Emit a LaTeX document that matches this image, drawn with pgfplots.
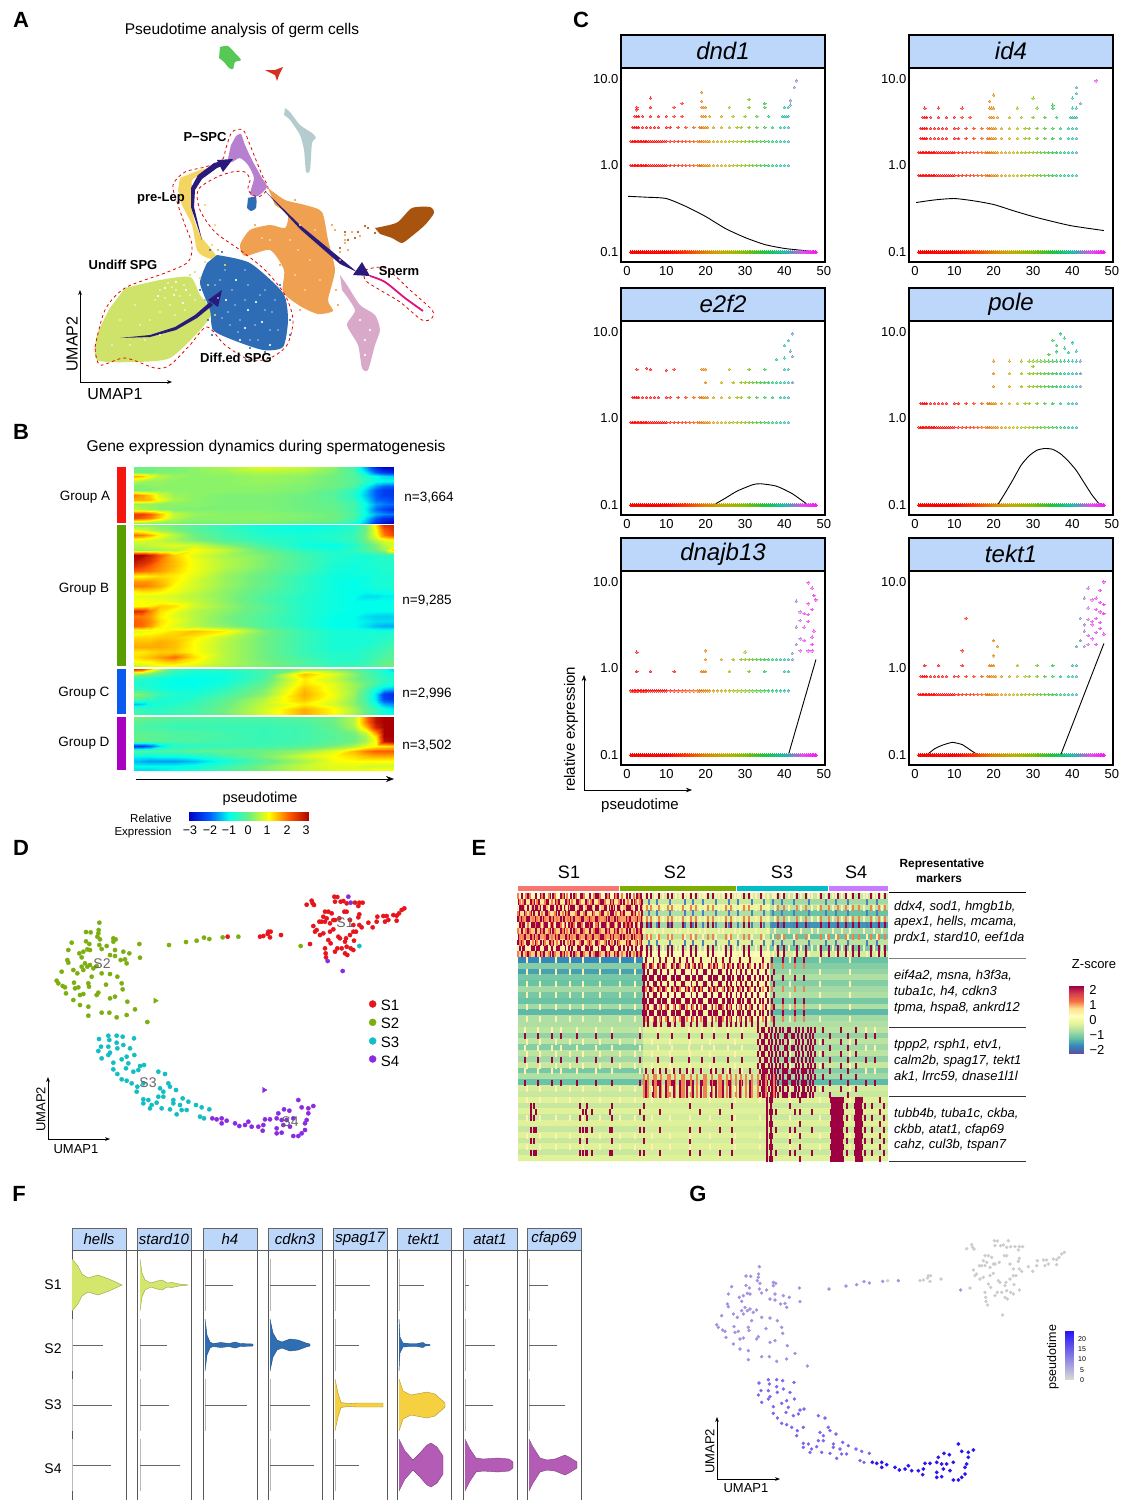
\documentclass[border=0pt]{standalone}
\usepackage{pgfplots}
\usepackage{pgfplotstable}
\usepackage{fontspec}
\setmainfont{Liberation Sans}
\pgfplotsset{compat=1.18}
\usetikzlibrary{arrows.meta}
\definecolor{stripb}{HTML}{BDD7FB}\definecolor{navy}{HTML}{2A1A7C}
\definecolor{hot}{HTML}{9E0142}\definecolor{org}{HTML}{F08050}\definecolor{cre}{HTML}{FFF2B0}\definecolor{blu}{HTML}{4A7FC0}
\definecolor{cS1}{HTML}{E8141C}\definecolor{cS2}{HTML}{7CAE10}\definecolor{cS3}{HTML}{10BEC4}\definecolor{cS4}{HTML}{8A2BE2}
\definecolor{lime}{HTML}{D4E66B}\definecolor{vblue}{HTML}{2F6EB3}\definecolor{vyel}{HTML}{F5D142}\definecolor{vpur}{HTML}{B35BB5}
\definecolor{aorg}{HTML}{EFA050}\definecolor{ablu}{HTML}{2E6CB5}\definecolor{ablt}{HTML}{7FA8D8}\definecolor{aorl}{HTML}{F7CFA0}\definecolor{apin}{HTML}{D9A9C9}\definecolor{apur}{HTML}{B77FD0}\definecolor{abrn}{HTML}{A8540F}\definecolor{agry}{HTML}{B5CCCF}\definecolor{agrn}{HTML}{55C855}\definecolor{ared}{HTML}{D8301E}\definecolor{ayel}{HTML}{F5D562}\definecolor{amag}{HTML}{E0107F}\definecolor{alim}{HTML}{CFE26A}\definecolor{allt}{HTML}{EAF3B8}
\pgfplotsset{
 colormap={jetB}{rgb255=(0,0,200) rgb255=(0,90,255) rgb255=(0,255,235) rgb255=(110,240,130) rgb255=(255,255,0) rgb255=(255,90,0) rgb255=(170,0,0)},
 colormap={spec}{rgb255=(94,79,162) rgb255=(50,136,189) rgb255=(102,194,165) rgb255=(171,221,164) rgb255=(230,245,152) rgb255=(255,255,191) rgb255=(254,224,139) rgb255=(244,109,67) rgb255=(213,62,79) rgb255=(158,1,66)},
 colormap={rb}{rgb255=(255,0,0) rgb255=(255,0,0) rgb255=(255,0,0) rgb255=(255,50,0) rgb255=(225,130,0) rgb255=(190,175,0) rgb255=(130,190,0) rgb255=(30,195,60) rgb255=(20,190,160) rgb255=(235,70,240) rgb255=(240,0,240)},
 colormap={gb}{rgb255=(215,215,215) rgb255=(40,20,245)},
 hid/.style={scale only axis,anchor=north west,axis lines=none,y dir=reverse},
 cax/.style={scale only axis,anchor=north west,width=204pt,height=194pt,xmin=-1.5,xmax=50.3,ymin=-1.1156,ymax=1.127,y filter/.expression={log10(y)},
  xtick={0,10,20,30,40,50},ytick={-1,0,1},yticklabels={0.1,1.0,10.0},xticklabels={0,10,20,30,40,50},major tick length=0pt,minor tick length=0pt,
  axis line style={line width=1.2pt},tick label style={font=\fontsize{13}{13}\selectfont},colormap name=rb,point meta min=0,point meta max=50,
  xticklabel style={yshift=-1pt},yticklabel style={xshift=1pt}},
 sc/.style={only marks,scatter,mark=*,mark size=1.25,point meta=x,opacity=.5,scatter/use mapped color={draw=mapped color,fill=mapped color},mark options={line width=0pt}},
 sz/.style={only marks,scatter,mark=*,mark size=1.6,point meta=x,opacity=.9,scatter/use mapped color={draw=mapped color,fill=mapped color},mark options={line width=0pt}},
}
\newtoks\myac \newcount\ci \newcount\ri \def\ncol{15}
\def\tolistA#1 {\ifx x#1\else\myac=\expandafter{\the\myac #1\\}\expandafter\tolistA\fi}
\def\hA#1 {\ifx x#1\else\edef\tmp{\the\myac\csname\cxp\the\ci\endcsname\space\the\ri\space#1\noexpand\\}\myac=\expandafter{\tmp}\advance\ci 1 \ifnum\ci=\ncol\relax\ci=0 \advance\ri 1 \fi\expandafter\hA\fi}
\newcommand\lv[3][sc]{\myac={}\expandafter\tolistA#3 x \edef\tmp{\noexpand\addplot[#1] table[row sep=\noexpand\\,header=false,x index=0,y expr=#2]{\the\myac};}\tmp}
\newcommand\pr[2][sc]{\addplot[#1] table[row sep=\\,header=false,x index=0,y index=1]{#2};}
\newcommand\tk[3]{\myac={}\expandafter\tolistA#3 x \edef\tmp{\noexpand\addplot[only marks,mark=|,mark size=3.1,mark options={#1,line width=1.1pt}] table[row sep=\noexpand\\,header=false,x index=0,y expr=#2]{\the\myac};}\tmp}
\newcommand\tkr[3]{\foreach\yy in {#3}{\tk{#1}{\yy}{#2}}}
\newcommand\bheat[3]{\myac={}\ci=0 \ri=0 \expandafter\hA#3 x \edef\tmp{\noexpand\addplot3[surf,shader=interp,mesh/cols=15] table[row sep=\noexpand\\,header=false,x index=0,y expr=#1+#2*\noexpand\thisrowno{1},z index=2]{\the\myac};}\tmp}
\foreach[count=\i from 0]\v in {0,8,16,26,40,60,90,130,170,200,220,232,242,250,260}{\expandafter\xdef\csname cx\i\endcsname{\v}}
\expandafter\def\csname ex0\endcsname{518}\expandafter\def\csname ex1\endcsname{643}\expandafter\def\csname ex2\endcsname{770}\expandafter\def\csname ex3\endcsname{888}
\newcommand\T[5][]{\node[inner sep=0pt,yshift=-1.3pt,#1] at (#2pt,-#3pt) {\fontsize{#4}{#4}\selectfont #5};}
\newcommand\pg[2]{\addplot[fill=#1,draw=none,smooth,tension=.4] coordinates {#2};}
\newcommand\spts[3][.9]{\addplot[only marks,mark=*,mark size=#1,color=#2,mark options={draw=none}] coordinates {#3};}
\newcommand\Cb[3]{\draw[line width=1.2pt,fill=stripb] (#1pt,-#2pt) rectangle ++(204pt,-33pt);\node at (#1pt+102pt,-#2pt-16pt) {\fontsize{24}{24}\selectfont\itshape #3};
 \begin{axis}[cax,at={(#1pt,-#2pt-33pt)}]}
\newcommand\Cu[1]{\addplot[black,line width=.9pt,smooth,tension=.4] coordinates {#1};}
\newcommand\Vl[3]{\addplot[gray!55,line width=1pt] table[row sep=\\,header=false,x index=0,y expr=#1+\thisrowno{1}]{#3 -26\\#3 26\\};\ifdim#2pt>0pt\addplot[black!60,line width=.4pt] table[row sep=\\,header=false,x index=0,y expr=#1]{#3\\#2\\};\fi}
\newcommand\Vi[4]{\addplot[fill=#1,draw=none] table[row sep=\\,header=false,x index=0,y expr=#2+\thisrowno{1}]{#4#3 0\\};\addplot[fill=#1,draw=none] table[row sep=\\,header=false,x index=0,y expr=#2-\thisrowno{1}]{#4#3 0\\};
 \addplot[#1!70!black,line width=.4pt] table[row sep=\\,header=false,x index=0,y expr=#2+\thisrowno{1}]{#4};\addplot[#1!70!black,line width=.4pt] table[row sep=\\,header=false,x index=0,y expr=#2-\thisrowno{1}]{#4};}
\newcommand\VP[3]{\draw[gray!80!black,line width=.8pt,fill=stripb] (#1pt,-1228pt) rectangle ++(54pt,-22pt);\node at (#1pt+27pt,-1239pt) {\fontsize{15}{15}\selectfont\itshape #2};
 \begin{axis}[hid,at={(#1pt,-1250pt)},width=54pt,height=250pt,xmin=0,xmax=54,ymin=1250,ymax=1500,clip=false]
 \addplot[black!65,line width=.8pt] coordinates {(0,1250)(0,1500)};\addplot[black!65,line width=.8pt] coordinates {(54,1250)(54,1500)};#3\end{axis}}
\def\Xz{1 1.5 2 2.5 3 3.5 4 4.5 5 5.5 6 6.5 7 7.5 8 8.5 9 9.5 10 10.5 11 11.5 12 12.5 13 13.5 14 14.5 15 15.5 16 16.5 17 17.5 18 18.5 19 19.5 20 20.5 21 21.5 22 22.5 23 23.5 24 24.5 25 25.5 26 26.5 27 27.5 28 28.5 29 29.5 30 30.5 31 31.5 32 32.5 33 33.5 34 34.5 35 35.5 36 36.5 37 37.5 38 38.5 39 39.5 40 40.5 41 41.5 42 42.5 43 43.5 44 44.5 45 45.5 46 46.5 47 47.5 48}
\def\Xa{1 1.4 1.8 2.2 2.6 3 3.4 3.8 4.2 4.6 5 5.5 6 6.5 7 7.5 8 8.5 9 9.5 10 11 12 13 14 15 16 17 18 18.5 19 19.5 20 20.5 21 22 23 24 25 26 27 28 29 30 31 32 33 34 35 36 37 38 39 40 41}
\def\Xb{1.5 2 2.5 3 4 5 6 7 8 10 11 13 15 17 18.5 19 19.5 20 20.5 22 24 26 28 29 31 33 35 37 39 40 41}
\def\Xc{2 2.5 3 4 6 8 10 12 14 19 19.5 20 21 24 27 30 33 36 39.5 40 40.5 41}
\def\Xd{2.5 6 12 19 19.5 20 26 31 35 40 41}
\def\Xg{20 24 27 29 30 31 32 33 34 35 36 37 38 39 40 41 42}
\def\Ea{518 522 527 529 536 541 544 550 553 561 564 571 574 581 583 590 596 598 606 609 615 618 627 630 637 641}
\def\Eb{519 525 531 534 539 546 548 556 559 566 569 577 579 586 593 601 603 611 613 621 624 632 635 642}
\def\Ec{520 523 533 537 545 552 557 568 572 580 588 591 599 605 612 619 628 636 640}
\def\Ed{518 526 530 542 549 555 563 567 576 584 594 600 608 616 622 634 639}
\def\Ee{647 651 659 668 672 683 691 696 708 713 726 731 744 749 761 778 784 797 806 821 829 838 846 853 859 871 879 885}
\def\Ef{644 655 663 676 680 688 700 705 719 723 735 740 756 768 775 789 801 812 818 833 842 850 864 874 882}
\def\Eg{649 657 670 685 693 703 716 729 738 752 764 773 782 794 809 826 836 848 867 877}
\def\Eh{643 645 650 652 658 663 665 672 677 679 686 689 695 699 702 709 714 717 724 728 733 738 743 748 755 760 768}
\def\Ei{644 648 654 656 661 668 670 675 682 684 691 697 704 706 712 719 721 727 731 736 741 746 752 758 766 774}
\def\Ej{646 653 660 666 674 680 687 693 701 711 716 723 730 740 750 763 772 783 795 804}
\def\Ek{527 540 556 570 583 600 620 635 652 670 690 710 735 760 790 820 850}
\def\El{758 762 764 769 772 776 780 783 788 790 796 799 803 808 811 815 823 841 856}
\def\Em{760 765 767 771 775 778 785 787 792 794 798 802 806 810 813 830 848}
\def\En{525 538 552 561 577 596 612 640 658 672 689 702 714 728 742 866 875}
\def\Eo{531 536 583 586 592 610 640 660 700 720 776 795 812}
\def\Ep{767 770 772 800 831 833 835 837 839 841 843 856 858 860 862 880}
\def\Eq{531 534 580 587 612 644 690 732 767 771 790 832 834 836 838 840 842 847 855 857 859 861 865 872 884}
\begin{document}
\pgfplotstableread[row sep=\\,header=false]{1003 80\\1012 81\\1022 95\\1030 93\\1040 100\\1005 95\\1065 98\\1078 98\\1088 98\\1075 108\\935 92\\938 100\\920 104\\942 105\\975 125\\985 125\\995 130\\1033 125\\1040 125\\1078 133\\1075 142\\1213 115\\1205 120\\1197 130\\1190 137\\1180 135\\1160 138\\1150 138\\1132 140\\1130 155\\1105 158\\1118 172\\1155 155\\1165 150\\1190 152\\970 140\\980 145\\1000 150\\958 155\\965 155\\940 168\\945 185\\975 155\\990 160\\1005 150\\1018 145\\1050 150\\1060 165\\1078 165\\1085 172\\1060 185\\1068 185\\1050 195\\1038 205\\1062 212\\1035 215\\1040 230\\1015 200\\1020 205\\1000 178\\990 185\\970 190\\950 180\\960 195\\985 210\\992 220\\1012 235\\1025 235\\1005 245\\1035 250\\1042 255\\1052 235\\1060 240\\975 235\\977 250\\978 262\\930 222\\805 185\\812 185\\803 192\\810 202\\780 200\\790 198\\843 195\\683 200\\}\Sa
\pgfplotstableread[row sep=\\,header=false]{298 158\\258 186\\272 187\\296 180\\295 190\\292 200\\300 208\\215 218\\258 214\\268 222\\205 240\\238 250\\250 245\\262 238\\270 240\\298 225\\305 237\\320 228\\340 205\\347 208\\340 215\\345 240\\330 255\\370 245\\388 250\\418 222\\420 263\\375 268\\380 280\\362 270\\345 258\\202 270\\205 278\\245 262\\255 280\\245 290\\250 300\\262 290\\270 285\\290 288\\280 295\\185 305\\220 300\\222 338\\232 310\\275 320\\305 310\\330 312\\352 320\\365 340\\368 358\\318 344\\170 332\\175 340\\188 348\\195 352\\198 370\\225 355\\235 352\\240 375\\250 372\\265 340\\267 350\\295 368\\290 375\\330 385\\345 380\\220 390\\240 405\\265 410\\265 437\\305 428\\328 428\\350 442\\380 435\\405 418\\382 395\\442 456\\507 225\\558 216\\590 212\\612 203\\628 207\\668 202\\715 200\\902 228\\}\Sb
\pgfplotstableread[row sep=\\,header=false]{297 507\\325 497\\328 510\\350 497\\368 500\\402 505\\350 518\\370 525\\325 530\\303 530\\295 543\\352 535\\390 535\\330 548\\325 555\\305 565\\380 560\\403 555\\340 578\\365 568\\385 580\\420 588\\432 585\\378 595\\400 605\\340 598\\352 612\\415 600\\365 628\\380 632\\395 640\\475 605\\495 612\\412 650\\430 640\\410 665\\505 640\\510 650\\480 655\\490 665\\528 660\\475 680\\430 688\\445 690\\490 680\\520 690\\548 685\\565 695\\430 700\\455 705\\470 698\\520 700\\540 705\\450 715\\485 715\\510 718\\530 733\\545 720\\560 720\\588 705\\605 712\\628 718\\600 740\\612 745\\}\Sc
\pgfplotstableread[row sep=\\,header=false]{637 745\\650 748\\665 745\\680 752\\665 760\\705 760\\718 768\\735 765\\745 755\\755 770\\775 770\\795 748\\810 748\\790 765\\788 782\\835 730\\852 718\\868 722\\895 690\\905 712\\925 715\\940 708\\925 730\\920 750\\915 760\\830 745\\845 750\\860 750\\880 745\\850 765\\870 770\\830 775\\845 788\\830 790\\880 798\\895 798\\905 790\\915 780\\}\Sd
\begin{tikzpicture}[x=1pt,y=1pt]
\path[use as bounding box] (0pt,0pt) rectangle (1124pt,-1500pt);
% ---------- A
\begin{axis}[hid,at={(0pt,0pt)},width=470pt,height=410pt,xmin=0,xmax=470,ymin=0,ymax=410]
\pg{alim}{(125,288)(160,280)(190,277)(200,295)(212,312)(200,330)(170,358)(135,362)(97,360)(97,335)(110,308)}
\pg{ayel}{(180,178)(200,170)(212,168)(192,180)(194,195)(193,215)(200,235)(212,250)(218,260)(205,257)(197,250)(192,225)(182,205)(178,190)}
\pg{aorg}{(268,188)(285,200)(305,205)(322,212)(328,240)(335,270)(328,300)(333,311)(318,314)(300,306)(283,292)(284,270)(270,250)(245,256)(240,245)(250,230)(270,225)(285,228)(288,215)(275,205)}
\pg{ablu}{(217,255)(250,263)(283,293)(288,320)(283,347)(263,350)(233,340)(213,330)(210,310)(200,283)(207,263)}
\pg{agrn}{(220,47)(228,46)(235,53)(241,60)(235,62)(233,69)(229,68)(224,62)(219,58)}
\addplot[fill=ared,draw=none] coordinates {(265,70)(275,70)(283,67)(279,75)(277,81)(275,75)};
\pg{agry}{(285,108)(290,112)(300,125)(312,133)(316,138)(312,143)(310,170)(306,172)(304,150)(300,135)(290,120)(284,115)}
\pg{apur}{(236,136)(241,134)(245,145)(252,160)(262,178)(267,187)(258,196)(250,194)(254,178)(248,165)(240,158)(232,162)(228,160)(231,145)}
\pg{ablu}{(248,198)(256,197)(256,208)(251,211)(247,208)}
\pg{abrn}{(375,228)(385,226)(398,222)(412,208)(430,207)(434,213)(425,225)(412,236)(402,243)(392,238)(380,234)}
\pg{apin}{(340,275)(347,285)(360,305)(375,315)(380,330)(375,345)(368,370)(362,368)(358,345)(347,325)(355,310)(342,290)}
\addplot[amag,line width=1.8pt,smooth] coordinates {(370,276)(385,282)(405,298)(423,311)};
\spts{allt}{(160,290)(165,298)(172,287)(170,305)(180,296)(155,300)(185,310)(150,320)(175,315)(140,325)(130,345)(195,300)(160,335)(168,283)(176,290)(184,285)(190,295)(160,312)(145,340)(120,320)(112,345)(135,305)}
\spts{white}{(165,288)(174,295)(183,303)(158,296)(186,290)(176,282)}
\spts{ablt}{(220,280)(232,290)(245,300)(240,320)(255,325)(265,310)(235,305)(225,270)(270,330)(250,340)(230,325)(215,285)(260,295)(245,270)(228,312)(248,285)(272,312)(278,330)(258,340)(238,332)(218,298)(222,318)(265,290)(275,300)}
\spts{white}{(236,280)(248,310)(262,322)(240,340)(226,300)(256,302)(270,345)(245,328)}
\spts{ablu}{(205,275)(200,290)(210,262)(285,300)(290,320)(283,345)(212,335)(218,250)(280,285)(222,252)(210,250)(290,335)(205,300)(265,352)(250,348)(208,320)}
\spts{aorl}{(290,240)(270,240)(300,225)(310,260)(295,275)(305,290)(262,238)(315,230)(320,280)(298,250)}
\spts{aorg}{(250,240)(340,260)(335,230)(345,240)(345,235)(352,232)(360,236)(340,252)(348,250)(345,243)(300,310)(260,245)(280,265)(280,198)(275,195)(332,225)(336,290)(338,305)(295,200)(255,225)}
\spts{abrn}{(368,228)(358,232)(375,233)(348,240)(340,248)(365,226)(355,238)(345,232)}
\spts{white}{(365,340)(360,320)(370,330)(240,165)(245,170)(365,355)(252,178)}
\spts{alim}{(200,278)(208,285)(190,275)(205,300)(195,272)(215,315)}
\spts{ayel}{(205,262)(212,245)(218,250)(200,245)(225,265)(205,205)(215,225)}
\addplot[red!90!black,line width=.8pt,dashed,smooth,tension=.5] coordinates {(95,347)(105,310)(125,288)(165,273)(188,262)(192,245)(185,225)(178,205)(173,185)(185,172)(205,167)(222,160)(226,148)(232,132)(243,130)(250,145)(262,175)(268,188)(258,197)(248,190)(250,180)(245,172)(232,172)(215,178)(198,190)(200,210)(215,232)(240,250)(265,270)(285,295)(293,320)(287,345)(270,358)(250,360)(225,345)(207,327)(190,345)(170,365)(155,368)(125,358)(100,365)(95,347)};
\addplot[red!90!black,line width=.8pt,dashed,smooth,tension=.5] coordinates {(365,270)(385,268)(410,290)(432,310)(432,318)(422,320)(400,302)(380,290)(365,280)(365,270)};
\addplot[fill=navy,draw=none] coordinates {(120,338)(150,335)(175,327)(195,315)(210,302)(213,305)(197,318)(176,330)(150,337)};
\addplot[fill=navy,draw=none] coordinates {(222,290)(208,300)(218,307)};
\addplot[fill=navy,draw=none] coordinates {(202,240)(191,207)(191,188)(198,175)(214,163)(222,161)(224,165)(217,168)(202,179)(195,190)(194,207)};
\addplot[fill=navy,draw=none] coordinates {(233,159)(217,160)(223,172)};
\addplot[fill=navy,draw=none] coordinates {(265,191)(300,225)(345,262)(357,272)(340,264)(300,229)};
\addplot[fill=navy,draw=none] coordinates {(370,276)(353,275)(362,262)};
\end{axis}
\T{21}{19}{22}{\bfseries A}\T{242}{29}{15.5}{Pseudotime analysis of germ cells}
\T{205}{136}{13}{\bfseries P−SPC}\T{161}{197}{13}{\bfseries pre-Lep}\T{123}{264}{13}{\bfseries Undiff SPG}\T{236}{357}{13}{\bfseries Diff.ed SPG}\T{399}{271}{13}{\bfseries Sperm}
\draw[-{Stealth[length=5pt]},line width=.6pt] (80pt,-382pt)--(80pt,-290pt);\draw[-{Stealth[length=5pt]},line width=.6pt] (80pt,-382pt)--(172pt,-382pt);
\T[rotate=90]{72}{343}{16}{UMAP2}\T{115}{393}{16}{UMAP1}
% ---------- B
\begin{axis}[hid,at={(134pt,-467pt)},width=260pt,height=304pt,xmin=0,xmax=260,ymin=467,ymax=771,view={0}{90},colormap name=jetB,point meta min=-3,point meta max=3]
\def\cxp{cx}\def\ncol{15}
\bheat{467}{4.67}{0 0 0 .1 .1 .2 .4 .8 .6 .2 -.4 -1.6 -2.6 -3 -3 0 0 0 .1 .1 .2 .3 .5 .4 .1 -.3 -1.2 -2 -2.4 -2.6 1.5 1.4 .9 .5 .3 .2 .2 .3 .2 0 -.2 -.7 -1 -1.2 -1.3 .5 .4 .3 .3 .2 .2 .2 .3 .2 0 -.2 -.6 -.9 -1 -1 .1 .1 .2 .2 .2 .2 .2 .2 .1 0 -.3 -1 -1.6 -1.9 -2 .1 .1 .1 .2 .2 .2 .2 .2 .1 -.2 -.6 -1.3 -2 -2.3 -2.4 1.8 1.6 1.3 .7 .3 .2 .1 .1 0 -.2 -.7 -1.4 -2 -2.3 -2.4 1.5 1.5 1.4 .9 .4 .2 .1 .1 0 -.2 -.5 -1.2 -1.9 -2 -2.2 .3 .3 .3 .2 .2 .2 .1 .1 0 -.1 -.4 -1 -1.6 -1.8 -1.9 .5 .4 .3 .2 .1 .1 .1 .1 0 -.1 -.4 -1.1 -1.9 -2.2 -2.5 2.3 2.3 2 1.4 .6 .3 .2 .2 .1 0 -.3 -1 -1.5 -1.7 -1.8 2.2 2 1.8 1.2 .5 .2 .2 .2 .1 0 -.4 -1.2 -2 -2.4 -2.6 .3 .3 .2 .2 .2 .1 .1 .1 0 -.2 -.7 -1.5 -2.5 -2.8 -3}
\bheat{525}{5.07}{.2 .2 .2 .1 0 -.2 -.5 -.9 -1 -.9 -.7 0 1.2 2.4 2.6 .8 .7 .5 .3 .1 -.2 -.5 -.8 -.9 -.8 -.6 0 1 2 2.4 1.9 1.8 1.5 1 .5 0 -.4 -.7 -.8 -.7 -.5 .1 .9 1.8 2.2 .8 .8 .7 .6 .4 .1 -.3 -.6 -.8 -.7 -.5 0 .5 .8 .9 .5 .5 .6 .7 .8 .7 .2 -.4 -.9 -1 -.7 -.3 .1 .5 .8 .3 .3 .3 .4 .5 1 .6 -.1 -.6 -.8 -.6 -.3 0 .3 1.4 3 3 2.6 2 1.3 .8 .4 .1 -.4 -.7 -.8 -.8 -.7 -.6 -.6 2.8 2.6 2.4 1.8 1.4 .9 .5 .1 -.4 -.7 -.8 -.8 -.7 -.7 -.7 2.5 2.3 2 1.7 1.4 .9 .5 .1 -.4 -.8 -.9 -.8 -.8 -.7 -.7 2 1.9 1.8 1.6 1.3 .9 .4 0 -.4 -.8 -.9 -.8 -.8 -.7 -.7 1 1 1.1 1.2 1.1 .8 .3 -.1 -.6 -.9 -.9 -.9 -.8 -.8 -.8 1.6 1.6 1.6 1.4 1.1 .7 .3 -.1 -.6 -.9 -1 -.9 -.8 -.8 -.7 1.8 1.8 1.7 1.5 1 .7 .3 -.1 -.6 -.9 -1 -.9 -.8 -.8 -.8 1.1 1.2 1.2 1.1 .9 .6 .2 -.2 -.6 -.9 -1 -1 -.9 -.9 -.9 .8 .8 .8 .8 .7 .5 .2 -.3 -.7 -.9 -1 -1.2 -1.2 -1.1 -1.1 1 1 .9 .9 .8 .6 .2 -.3 -.7 -.9 -1 -1 -1 -1 -1 .9 1 1.1 1.3 1.2 .7 .3 -.2 -.7 -.9 -1 -1 -1 -1 -.9 2.5 2.4 1.8 1.2 .9 .5 .2 -.2 -.7 -.9 -1 -1 -1 -1 -1 1.8 1.8 1.6 1.1 .8 .5 .1 -.3 -.7 -1 -1 -1.2 -1.3 -1.3 -1.3 2 1.9 1.7 1.2 .9 .5 .1 -.3 -.7 -1 -1 -1.1 -1.2 -1.2 -1.2 2 1.9 1.6 1.1 .8 .5 .2 -.3 -.7 -1 -1 -1.2 -1.4 -1.5 -1.5 .7 .8 .9 1 1.2 1.4 1.1 .1 -.5 -.8 -.8 -.8 -.8 -.8 -.7 1.2 1.2 1.2 1.3 1.3 1.1 .6 0 -.5 -.8 -.8 -.8 -.7 -.7 -.6 1.4 1.4 1.4 1.5 1.4 1 .5 0 -.5 -.8 -.8 -.8 -.7 -.6 -.5 1.5 1.5 1.5 1.5 1.4 1 .5 0 -.5 -.8 -.8 -.7 -.6 -.5 -.3 1.1 1.1 1.2 1.3 1.3 1 .5 0 -.5 -.7 -.7 -.6 -.5 -.4 -.2 1.2 1.3 1.4 1.6 1.9 1.2 .5 0 -.4 -.7 -.7 -.6 -.4 -.3 -.2 .9 1 1 1.2 1.3 1 .5 .1 -.3 -.6 -.6 -.5 -.3 -.1 0 .5 .6 .7 .8 .8 .7 .4 .1 -.3 -.5 -.5 -.4 -.2 0 .1}
\bheat{669}{5}{2.4 2.2 1.4 .5 -.3 -.6 -.6 -.3 .2 .1 -.2 -.5 -.7 -.8 -1.3 .3 .2 0 -.3 -.7 -.9 -.9 -.4 1.4 .8 .2 -.2 -.5 -.7 -.8 -.6 -.7 -.8 -.9 -1 -1 -.9 -.3 1.1 .6 .1 -.2 -.4 -.6 -.7 -.7 -.8 -.8 -.9 -1 -1 -.8 -.1 1.2 .8 .3 0 -.4 -.7 -.8 -.5 -.6 -.7 -.8 -.9 -.9 -.6 .1 1.4 .8 .3 -.3 -.9 -1.3 -1.5 .2 .1 -.2 -.5 -.7 -.8 -.4 .2 1.5 .9 .3 -.4 -1.2 -2.3 -2.5 -.2 -.3 -.5 -.7 -.8 -.6 -.2 .5 1.4 .8 .2 -.4 -1.2 -2.2 -2.4 -1.4 -1.3 -.9 -.8 -.7 -.5 -.1 .6 1.1 .7 .2 -.3 -.9 -1.5 -1.7 -.4 -.5 -.6 -.6 -.5 -.4 0 .7 1.5 1 .4 -.1 -.5 -.9 -1.2 -.4 -.5 -.6 -.6 -.5 -.4 0 .7 1.5 1 .4 -.1 -.5 -.8 -1}
\bheat{717}{4.85}{.1 0 0 -.1 -.2 -.2 -.3 -.3 -.2 0 .5 1.8 2.8 3 3 -.1 -.2 -.3 -.3 -.4 -.4 -.4 -.4 -.3 0 .5 1.8 2.8 3 3 -.3 -.3 -.4 -.4 -.5 -.5 -.5 -.5 -.4 -.1 .4 1.4 2.6 3 3 -.2 -.2 -.2 -.2 -.3 -.3 -.4 -.5 -.4 -.2 .1 .7 1.8 3 3 -.1 -.1 -.2 -.2 -.3 -.3 -.4 -.5 -.4 -.2 0 .4 1.2 3 3 -.1 -.1 -.2 -.2 -.3 -.3 -.4 -.5 -.4 -.2 0 .4 1 2.8 3 -2.4 -2.3 -2 -1.2 -.7 -.6 -.5 -.4 -.2 .1 .4 .8 1 1.1 1.2 -.2 -.2 -.3 -.3 -.3 -.2 -.1 0 .3 .8 1.4 1.8 2 2 2 -1 -1 -1 -.9 -.9 -.8 -.4 .1 .7 1 1.2 1.4 1.5 1.5 1.5 -1.4 -1.5 -1.6 -1.6 -1.6 -1.4 -.9 -.2 .4 .9 1 1 1 1 1 -1 -1 -1 -1 -1 -.9 -.5 .1 .6 .8 .8 .7 .7 .7 .7 -1.2 -1.2 -1.2 -1.1 -1 -.8 -.4 .1 .6 .8 .9 .9 1 1 1}
\end{axis}
\begin{axis}[hid,at={(189pt,-812pt)},width=120pt,height=8pt,xmin=-3,xmax=3,ymin=0,ymax=1,view={0}{90},colormap name=jetB,point meta min=-3,point meta max=3]
\addplot3[surf,shader=interp,mesh/cols=2,point meta=x] coordinates {(-3,0,0)(3,0,0)(-3,1,0)(3,1,0)};
\end{axis}
\definecolor{gA}{HTML}{F5170F}\definecolor{gB}{HTML}{5A9E00}\definecolor{gC}{HTML}{0A5AF0}\definecolor{gD}{HTML}{AA00C0}
\fill[gA] (117pt,-467pt) rectangle (126pt,-523pt);\fill[gB] (117pt,-525pt) rectangle (126pt,-666pt);\fill[gC] (117pt,-669pt) rectangle (126pt,-714pt);\fill[gD] (117pt,-717pt) rectangle (126pt,-770pt);
\T{21}{431}{22}{\bfseries B}\T{266}{446}{15.6}{Gene expression dynamics during spermatogenesis}
\T{85}{496}{13.5}{Group A}\T{84}{588}{13.5}{Group B}\T{84}{692}{13.5}{Group C}\T{84}{742}{13.5}{Group D}
\T{429}{496}{13.5}{n=3,664}\T{427}{599}{13.5}{n=9,285}\T{427}{692}{13.5}{n=2,996}\T{427}{744}{13.5}{n=3,502}
\draw[-{Stealth[length=8pt]},line width=.6pt] (136pt,-779pt)--(394pt,-779pt);\T{260}{797}{14.5}{pseudotime}\T{151}{817}{11.5}{Relative}\T{143}{831}{11.5}{Expression}
\T{190}{829}{12.5}{−3}\T{210}{829}{12.5}{−2}\T{229}{829}{12.5}{−1}\T{248}{829}{12.5}{0}\T{267}{829}{12.5}{1}\T{287}{829}{12.5}{2}\T{306}{829}{12.5}{3}
% ---------- C
\T{581}{19}{22}{\bfseries C}
\Cb{621}{35}{dnd1}\lv[sz]{0.1}{\Xz}\lv{1}{\Xa}\lv{1.9}{\Xa}\lv{2.75}{\Xb}\lv{3.7}{\Xc}\lv{4.7}{\Xd}
\pr{43 9.5\\42.5 8\\19 7\\6 6\\19 5.5\\14 5.2\\31 5.8\\35 5.2\\41.5 5.6\\41.5 5\\2.5 4.4\\}
\Cu{(.3,.44)(5,.43)(10,.415)(15,.336)(20,.257)(25,.187)(30,.147)(35,.122)(40,.11)(45,.104)(48,.1)}\end{axis}
\Cb{909}{35}{id4}\lv[sz]{0.1}{\Xz}\lv{.766}{\Xa}\lv{1.41}{\Xa}\lv{2.05}{\Xb}\lv{2.68}{\Xb}\lv{3.6}{\Xc}\lv{4.6}{\Xd}
\pr{46 9.5\\41 8\\41 6.8\\40 6\\19 5.5\\20 6.5\\30 6\\35 5\\42 5.2\\}
\Cu{(.3,.373)(5,.4)(10,.415)(15,.39)(20,.354)(25,.3)(30,.257)(35,.225)(40,.2)(48,.177)}\end{axis}
\Cb{621}{288}{e2f2}\lv[sz]{0.1}{\Xz}\lv{.9}{\Xa}\lv{1.75}{\Xb}\lv{2.6}{\Xg}\lv{3.7}{\Xd}
\pr{42 9.5\\41 8\\40 7\\41.5 6\\40 5\\42 5.2\\38 4.8\\5 3.8\\10 3.6\\}
\addplot[black,line width=.9pt] coordinates {(1,.1)(22,.1)};\Cu{(22,.1)(25,.12)(28,.145)(32,.172)(34,.176)(38,.165)(42,.135)(46,.1)}\addplot[black,line width=.9pt] coordinates {(46,.1)(48,.1)};\end{axis}
\Cb{909}{288}{pole}\lv[sz]{0.1}{\Xz}\lv{.79}{\Xa}\lv{1.49}{\Xb}\lv{2.34}{\Xg}\lv{3.3}{\Xg}\lv{4.6}{\Xg}
\pr{37 9.5\\38 8.5\\35 8\\40 7.5\\36 7\\38 6.5\\41 6\\34 5.5\\36 5.9\\39 5.8\\30 4\\}
\addplot[black,line width=.9pt] coordinates {(1,.1)(21,.1)};\Cu{(21,.1)(23,.14)(25,.2)(27,.29)(29,.37)(31,.43)(33,.45)(35,.44)(37,.39)(39,.32)(41,.25)(43,.18)(45,.13)(47,.1)}\end{axis}
\Cb{621}{538}{dnajb13}\lv[sz]{0.1}{\Xz}\lv{.55}{\Xa}\lv{.92}{\Xd}\lv{1.27}{\Xg}
\pr{46 9.8\\47 8.5\\47.5 7\\48 6.2\\43 6\\46 5.6\\44 4.5\\45 4.3\\46 4.2\\47 4.8\\44 3.6\\46 3.5\\43 3\\45 3\\47.5 2.7\\47 2.3\\44 2.2\\45 2.1\\47 1.9\\43 1.9\\44 1.6\\46 1.6\\47 1.6\\42 1.5\\2.5 1.55\\20 1.6\\30 1.55\\}
\addplot[black,line width=.9pt] coordinates {(1,.1)(41,.1)(48,1.27)};\end{axis}
\Cb{909}{538}{tekt1}\lv[sz]{0.1}{\Xz}\lv{.5}{\Xa}\lv{.81}{\Xb}\lv{1.08}{\Xd}
\pr{48 10\\44 8.5\\47 8\\43 6.5\\45 6.2\\46 6.5\\47 5.8\\48 5.5\\44 5\\46 4.8\\47 4.5\\48 4.3\\42 3.8\\44 3.7\\45 3.5\\46 3.8\\47 3.4\\43 3.2\\45 3.2\\47 2.9\\43 2.7\\46 2.6\\48 2.5\\44 2.4\\45 2.2\\42 2.1\\44 1.9\\46 1.9\\41 1.8\\43 1.8\\13 3.8\\12 1.6\\20 2.1\\21 1.8\\20 1.4\\}
\addplot[black,line width=.9pt,smooth,tension=.3] coordinates {(3,.1)(5,.118)(7,.13)(9.5,.14)(12,.132)(14,.115)(16,.1)};\addplot[black,line width=.9pt] coordinates {(1,.1)(3,.1)};\addplot[black,line width=.9pt] coordinates {(16,.1)(37,.1)(48,1.95)};\end{axis}
\draw[-{Stealth[length=6pt]},line width=.6pt] (584pt,-790pt)--(584pt,-675pt);\draw[-{Stealth[length=6pt]},line width=.6pt] (584pt,-790pt)--(692pt,-790pt);
\T[rotate=90]{571}{728}{15}{relative expression}\T{640}{804}{15}{pseudotime}
% ---------- D
\begin{axis}[hid,at={(0pt,-870pt)},width=450pt,height=300pt,xmin=0,xmax=1350,ymin=0,ymax=900]
\addplot[only marks,mark=*,mark size=2.1,cS1,mark options={draw=none}] table[x index=0,y index=1]{\Sa};
\addplot[only marks,mark=*,mark size=2.1,cS2,mark options={draw=none}] table[x index=0,y index=1]{\Sb};
\addplot[only marks,mark=*,mark size=2.1,cS3,mark options={draw=none}] table[x index=0,y index=1]{\Sc};
\addplot[only marks,mark=*,mark size=2.1,cS4,mark options={draw=none}] table[x index=0,y index=1]{\Sd};
\addplot[only marks,mark=*,mark size=2.1,cS4,mark options={draw=none}] coordinates {(1045,80)(1052,98)(983,273)(1028,303)};
\addplot[only marks,mark=*,mark size=2.1,cS3,mark options={draw=none}] coordinates {(1078,228)};
\addplot[only marks,mark=triangle*,mark size=3,cS2,mark options={rotate=-90,draw=none}] coordinates {(466,392)};
\addplot[only marks,mark=triangle*,mark size=3,cS4,mark options={rotate=-90,draw=none}] coordinates {(792,660)};
\addplot[only marks,mark=*,mark size=3.5,cS1,mark options={draw=none}] coordinates {(1118,402)};
\addplot[only marks,mark=*,mark size=3.5,cS2,mark options={draw=none}] coordinates {(1118,457)};
\addplot[only marks,mark=*,mark size=3.5,cS3,mark options={draw=none}] coordinates {(1118,513)};
\addplot[only marks,mark=*,mark size=3.5,cS4,mark options={draw=none}] coordinates {(1118,567)};
\end{axis}
\T{21}{847}{22}{\bfseries D}
\T{390}{1004}{15}{S1}\T{390}{1022}{15}{S2}\T{390}{1041}{15}{S3}\T{390}{1060}{15}{S4}
\T{345}{921}{14}{\color{black!60}S1}\T{102}{962}{14}{\color{black!60}S2}\T{148}{1081}{14}{\color{black!60}S3}\T{290}{1120}{14}{\color{black!60}S4}
\draw[-{Stealth[length=5pt]},line width=.6pt] (48pt,-1139pt)--(48pt,-1077pt);\draw[-{Stealth[length=5pt]},line width=.6pt] (48pt,-1139pt)--(110pt,-1139pt);
\T[rotate=90]{41}{1108}{13}{UMAP2}\T{76}{1148}{13}{UMAP1}
% ---------- E
\begin{axis}[hid,at={(518pt,-893pt)},width=370pt,height=268pt,xmin=518,xmax=888,ymin=893,ymax=1161,view={0}{90},colormap name=spec,point meta min=-2.2,point meta max=2.2]
\def\cxp{ex}\def\ncol{4}\myac={}\ci=0 \ri=0
\expandafter\hA .3 -.4 -.5 -.5 .6 -.5 -.8 -.8 .9 -.2 -.6 -.6 .7 -.7 -1.2 -1.2 1 -.3 -.7 -.7 1.2 -.8 -1.6 -1.6 .8 -.3 -.8 -.8 1 -.6 -1.2 -1.2 .7 -.3 -.6 -.6 .5 -.6 -1.1 -1.1 .8 .1 -.4 -.4 -1.7 -.1 -1.2 -1.2 -1 .1 -1 -1 -1.5 0 -.9 -.9 -1.1 .1 -.7 -.7 -1.2 -.1 -1 -1 -.8 0 -.8 -.8 -1.1 .1 -.7 -.7 -1.2 0 -1.1 -1.1 -.8 .1 -.7 -.7 -1.3 -.1 -1.3 -1.3 -.7 0 -.8 -.8 -.7 -.4 -.7 -.7 -.6 -.3 -.6 -.6 -.9 -.5 -.9 -.9 -.6 -.3 -.6 -.6 -1 -.5 -.8 -.8 -.6 -.3 -.6 -.6 -.8 -.5 -.9 -.9 -.5 -.3 -.5 -.5 -1.1 -.5 -1 -1 -.7 -.4 -.8 -.8 -1.2 -.6 -1.3 -1.3 -.4 -.3 -.4 -.4 -.5 -.4 -.5 -.5 -.3 -.3 -.3 -.3 -.5 -.4 -.5 -.5 -.3 -.3 -.3 -.3 -.5 -.4 -.5 -.5 -.3 -.3 -.3 -.3 -.5 -.4 -.5 -.5 -.3 -.3 -.3 -.3 -.5 -.4 -.5 -.5 -.3 -.3 -.3 -.3 -.5 -.4 -.5 -.5 -.3 -.3 -.3 -.3 -.5 -.4 -.5 -.5 x 
\edef\tmp{\noexpand\addplot3[surf,shader=flat corner,mesh/cols=4] table[row sep=\noexpand\\,header=false,x index=0,y expr=893+5.826*\noexpand\thisrowno{1},z index=2]{\the\myac};}\tmp
\tkr{hot}{\Ea}{896,908,919,931,943,954}\tkr{hot}{\Eb}{902,913,925,937,948}\tkr{org}{\Ed}{896,913,931,954}\tkr{hot}{\Ec}{908,925,948}\tkr{org}{\Ec}{902,919,937,943}\tkr{cre}{\Ed}{908,925,948}
\tkr{blu}{\Eg}{902,913,925,943}\tkr{cre}{\Ef}{896,908,919,931,948}\tkr{hot}{\Ee}{896,925,948,954}\tkr{org}{\Ee}{908,919,937}\tkr{cre}{\Eg}{896,937,954}
\tkr{hot}{\Eh}{966,978,989,1001,1013}\tkr{hot}{\Ei}{972,984,995,1007,1019,1024}\tkr{hot}{\Ej}{960,978,1001,1013}\tkr{org}{\Ej}{966,989,1007,1019}\tkr{cre}{\Ek}{960,972,984,995,1007,1019}
\tkr{hot}{\El}{1030,1042,1054,1066,1077,1089}\tkr{hot}{\Em}{1036,1048,1060,1071,1083,1095}\tkr{hot}{\En}{1036,1060,1083}\tkr{cre}{\En}{1030,1048,1071}\tkr{org}{\Ei}{1077,1083,1089,1095}\tkr{hot}{\Ej}{1071,1083,1089,1095}\tkr{cre}{\Ek}{1042,1054,1066,1089}
\tkr{hot}{\Ep}{1100,1112,1124,1136,1147,1159}\tkr{hot}{\Eq}{1106,1118,1130,1141,1153}\tkr{hot}{\Eo}{1112,1130,1153}\tkr{cre}{\Ek}{1100,1118,1136,1147}
\end{axis}
\definecolor{eA}{HTML}{F8766D}\definecolor{eB}{HTML}{7CAE00}\definecolor{eC}{HTML}{00BFC4}\definecolor{eD}{HTML}{C77CFF}
\fill[eA] (518pt,-886pt) rectangle (619pt,-891pt);\fill[eB] (620pt,-886pt) rectangle (736pt,-891pt);\fill[eC] (737pt,-886pt) rectangle (828pt,-891pt);\fill[eD] (829pt,-886pt) rectangle (888pt,-891pt);
\begin{axis}[hid,at={(1069pt,-986pt)},width=14pt,height=67pt,xmin=0,xmax=1,ymin=-2.2,ymax=2.2,y dir=normal,view={0}{90},colormap name=spec,point meta min=-2.2,point meta max=2.2]
\addplot3[surf,shader=interp,mesh/cols=2,point meta=y] coordinates {(0,-2.2,0)(1,-2.2,0)(0,2.2,0)(1,2.2,0)};
\end{axis}
\T{479}{847}{22}{\bfseries E}\T{569}{871}{18}{S1}\T{675}{871}{18}{S2}\T{782}{871}{18}{S3}\T{856}{871}{18}{S4}
\T{942}{863}{11.8}{\bfseries Representative}\T{939}{877}{11.8}{\bfseries markers}
\draw[line width=1pt] (889pt,-892pt)--(1026pt,-892pt);\draw[gray,line width=1pt] (889pt,-958pt)--(1026pt,-958pt);\draw[black!80,line width=.7pt] (889pt,-1027pt)--(1026pt,-1027pt);\draw[black!80,line width=.7pt] (889pt,-1096pt)--(1026pt,-1096pt);\draw[black!80,line width=1pt] (889pt,-1161pt)--(1026pt,-1161pt);
\newcommand\M[2]{\node[anchor=west,inner sep=0pt] at (894pt,-#1pt) {\fontsize{13}{13}\selectfont\itshape #2};}
\M{907}{ddx4, sod1, hmgb1b,}\M{922}{apex1, hells, mcama,}\M{938}{prdx1, stard10, eef1da}\M{976}{eif4a2, msna, h3f3a,}\M{992}{tuba1c, h4, cdkn3}\M{1008}{tpma, hspa8, ankrd12}\M{1045}{tppp2, rsph1, etv1,}\M{1061}{calm2b, spag17, tekt1}\M{1077}{ak1, lrrc59, dnase1l1l}\M{1114}{tubb4b, tuba1c, ckba,}\M{1130}{ckbb, atat1, cfap69}\M{1145}{cahz, cul3b, tspan7}
\T{1094}{963}{13}{Z-score}\T{1093}{989}{13}{2}\T{1093}{1004}{13}{1}\T{1093}{1019}{13}{0}\T{1097}{1034}{13}{−1}\T{1097}{1049}{13}{−2}
% ---------- F
\T{19}{1193}{22}{\bfseries F}\T{53}{1283}{14}{S1}\T{53}{1347}{14}{S2}\T{53}{1403}{14}{S3}\T{53}{1467}{14}{S4}
\def\Ra{1285}\def\Rb{1345}\def\Rc{1405}\def\Rd{1465}
\VP{72}{hells}{\Vl{\Rb}{31}{1}\Vl{\Rc}{40}{1}\Vl{\Rd}{39}{1}\Vi{lime}{\Ra}{0}{0 -26\\6 -19\\10 -11\\16 -7\\26 -10\\37 -6\\50 0\\}}
\VP{137}{stard10}{\Vl{\Rb}{30}{3}\Vl{\Rc}{32}{3}\Vl{\Rd}{43}{3}\Vi{lime}{\Ra}{3}{3 -26\\5 -12\\8 -5\\14 -2\\20 -4\\25 -5\\30 -2\\35 -2.5\\42 -1\\51 0\\}}
\VP{203}{h4}{\Vl{\Ra}{30}{2}\Vl{\Rc}{44}{2}\Vi{vblue}{\Rb}{2}{2 -26\\4 -10\\7 -3\\10 -1.5\\18 -2.5\\26 -1.5\\32 -3\\37 -1.5\\50 -1\\50 0\\}}
\VP{268}{cdkn3}{\Vl{\Ra}{48}{2}\Vl{\Rc}{42}{2}\Vl{\Rd}{46}{2}\Vi{vblue}{\Rb}{2}{2 -26\\5 -12\\9 -5\\14 -3\\22 -6\\30 -5\\38 -2\\42 -1\\42 0\\}}
\VP{333}{spag17}{\Vl{\Ra}{37}{2}\Vl{\Rb}{26}{2}\Vl{\Rd}{26}{2}\Vi{vyel}{\Rc}{2}{2 -26\\5 -12\\8 -2.5\\15 -1.5\\25 -2\\35 -2\\50 -2\\50 0\\}}
\VP{397}{tekt1}{\Vl{\Ra}{27}{2}\Vi{vblue}{\Rb}{2}{2 -26\\3 -8\\6 -2\\12 -1.5\\20 -1.5\\26 -2.5\\28 -1\\33 -.5\\33 0\\}\Vi{vyel}{\Rc}{2}{2 -26\\6 -14\\14 -10\\30 -13\\38 -11\\48 -2\\48 0\\}\Vi{vpur}{\Rd}{2}{2 -26\\8 -14\\16 -5\\22 -11\\30 -20\\34 -22\\40 -18\\46 -9\\46 0\\}}
\VP{463}{atat1}{\Vl{\Ra}{6}{2}\Vl{\Rb}{32}{2}\Vl{\Rc}{30}{2}\Vi{vpur}{\Rd}{2}{2 -26\\7 -16\\13 -7\\20 -6\\35 -7\\46 -6\\50 -3\\50 0\\}}
\VP{527}{cfap69}{\Vl{\Ra}{21}{2}\Vl{\Rb}{30}{2}\Vl{\Rc}{38}{2}\Vi{vpur}{\Rd}{2}{2 -26\\6 -18\\13 -7\\20 -5\\28 -6\\38 -10\\42 -8\\50 -3\\50 0\\}}
\draw[black!65,line width=.8pt] (72pt,-1250pt)--(581pt,-1250pt);
% ---------- G
\definecolor{gS2}{HTML}{A690E4}\definecolor{gS3}{HTML}{7A66F0}\definecolor{gS4}{HTML}{2A14F0}
\begin{axis}[hid,at={(660pt,-1214pt)},width=450pt,height=300pt,xmin=0,xmax=1350,ymin=0,ymax=900]
\addplot[only marks,mark=*,mark size=1.5,gray!40,mark options={draw=none}] table[x index=0,y index=1]{\Sa};
\addplot[only marks,mark=*,mark size=1.5,gray!40,mark options={draw=none}] coordinates {(1045,80)(1052,98)(983,273)(1028,303)(1078,228)};
\addplot[only marks,mark=*,mark size=1.5,gS2,mark options={draw=none}] table[x index=0,y index=1]{\Sb};
\addplot[only marks,mark=*,mark size=1.5,gS3,mark options={draw=none}] table[x index=0,y index=1]{\Sc};
\addplot[only marks,mark=*,mark size=1.7,gS4,mark options={draw=none}] table[x index=0,y index=1]{\Sd};
\end{axis}
\begin{axis}[hid,at={(1065pt,-1331pt)},width=9pt,height=48pt,xmin=0,xmax=1,ymin=0,ymax=23,y dir=normal,view={0}{90},colormap name=gb,point meta min=0,point meta max=23]
\addplot3[surf,shader=interp,mesh/cols=2,point meta=y] coordinates {(0,0,0)(1,0,0)(0,23,0)(1,23,0)};
\end{axis}
\T{698}{1193}{22}{\bfseries G}\T[rotate=90]{1053}{1356}{12.5}{pseudotime}
\T{1082}{1338}{7}{20}\T{1082}{1348}{7}{15}\T{1082}{1358}{7}{10}\T{1082}{1369}{7}{5}\T{1082}{1379}{7}{0}
\draw[-{Stealth[length=5pt]},line width=.6pt] (717pt,-1479pt)--(717pt,-1417pt);\draw[-{Stealth[length=5pt]},line width=.6pt] (717pt,-1479pt)--(780pt,-1479pt);
\T[rotate=90]{710}{1450}{13}{UMAP2}\T{746}{1487}{13}{UMAP1}
\end{tikzpicture}
\end{document}
